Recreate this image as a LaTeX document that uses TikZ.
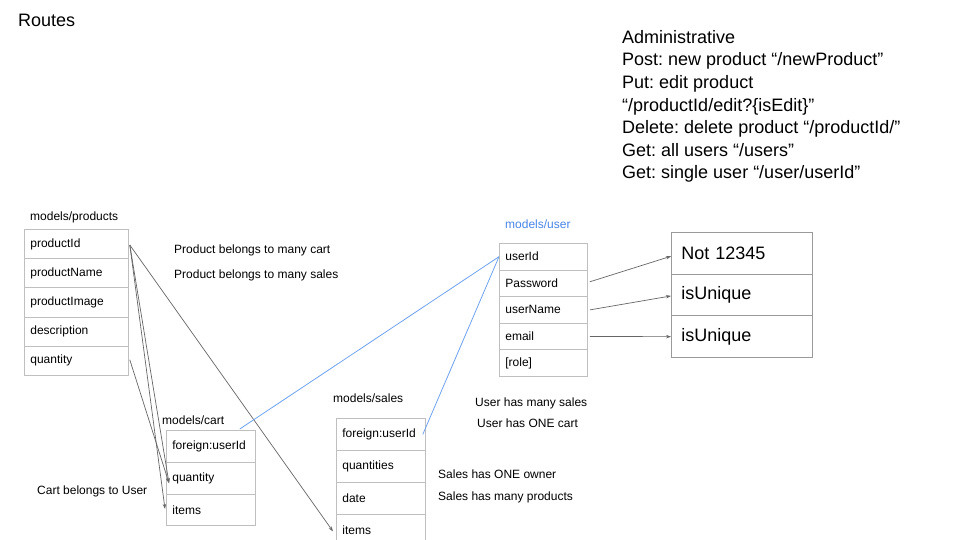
\documentclass[tikz,border=0pt]{standalone}
\usepackage{fontspec}
\setmainfont{Liberation Sans}
\usetikzlibrary{arrows.meta}
\frenchspacing
\definecolor{gridgray}{HTML}{BFBFBF}
\definecolor{boxgray}{HTML}{9A9A9A}
\definecolor{linkgray}{HTML}{666666}
\definecolor{linkblue}{HTML}{6FA3F0}
\definecolor{titleblue}{HTML}{4A86E8}
\tikzset{
  tablerow/.style 2 args={draw=gridgray, line width=0.8pt, anchor=north west, inner xsep=6pt, inner ysep=0pt,
    text width=#1, minimum height=#2, align=left, font=\fontsize{12}{14}\selectfont},
  bigrow/.style={draw=boxgray, line width=0.8pt, anchor=north west, inner xsep=10pt, inner ysep=0pt,
    text width=121pt, minimum height=41.7pt, align=left, font=\fontsize{18}{21}\selectfont},
  note/.style={anchor=base west, inner sep=0pt, font=\fontsize{12}{14}\selectfont},
  link/.style={draw=linkgray, line width=0.7pt, -{Stealth[length=5pt,width=3.5pt]}},
  bluelink/.style={draw=linkblue, line width=0.8pt},
}
\begin{document}
\begin{tikzpicture}[x=1pt,y=-1pt]
\clip (0,0) rectangle (960,540);
\useasboundingbox (0,0) rectangle (960,540);
\fill[white] (0,0) rectangle (960,540);

% titles
\node[anchor=base west, inner sep=0pt, font=\fontsize{18}{21}\selectfont] (routes) at (18,27) {Routes};
\node[anchor=north west, inner sep=0pt, align=left, font=\fontsize{18}{22.6}\selectfont] (admin) at (622,30)
  {Administrative\\Post: new product “/newProduct”\\Put: edit product\\“/productId/edit?\{isEdit\}”\\Delete: delete product “/productId/”\\Get: all users “/users”\\Get: single user “/user/userId”};

% products table
\node[note] (ptitle) at (30,220) {models/products};
\node[tablerow={92pt}{29.2pt}] (p1) at (24,229) {productId};
\node[tablerow={92pt}{29.2pt}] (p2) at (24,258.2) {productName};
\node[tablerow={92pt}{29.2pt}] (p3) at (24,287.4) {productImage};
\node[tablerow={92pt}{29.2pt}] (p4) at (24,316.6) {description};
\node[tablerow={92pt}{29.2pt}] (p5) at (24,345.8) {quantity};

% cart table
\node[note] (ctitle) at (162,424) {models/cart};
\node[tablerow={77pt}{31.8pt}] (c1) at (166,430) {foreign:userId};
\node[tablerow={77pt}{31.8pt}] (c2) at (166,461.8) {quantity};
\node[tablerow={77pt}{31.8pt}] (c3) at (166,493.6) {items};

% sales table
\node[note] (stitle) at (333,402) {models/sales};
\node[tablerow={77pt}{32pt}] (s1) at (336,418) {foreign:userId};
\node[tablerow={77pt}{32pt}] (s2) at (336,450) {quantities};
\node[tablerow={77pt}{32pt}] (s3) at (336,482) {date};
\node[tablerow={77pt}{32pt}] (s4) at (336,514) {items};

% user table
\node[note, text=titleblue] (utitle) at (505,228) {models/user};
\node[tablerow={76pt}{26.6pt}] (u1) at (499,243) {userId};
\node[tablerow={76pt}{26.6pt}] (u2) at (499,269.6) {Password};
\node[tablerow={76pt}{26.6pt}] (u3) at (499,296.2) {userName};
\node[tablerow={76pt}{26.6pt}] (u4) at (499,322.8) {email};
\node[tablerow={76pt}{26.6pt}] (u5) at (499,349.4) {[role]};

% constraint table
\node[bigrow] (r1) at (671,232) {\raisebox{-1.5pt}{Not 12345}};
\node[bigrow] (r2) at (671,273.7) {\raisebox{-1.5pt}{isUnique}};
\node[bigrow] (r3) at (671,315.4) {\raisebox{-1.5pt}{isUnique}};

% notes
\node[note] (n1) at (174,253) {Product belongs to many cart};
\node[note] (n2) at (174,278) {Product belongs to many sales};
\node[note] (n3) at (37,494) {Cart belongs to User};
\node[note] (n4) at (475,406) {User has many sales};
\node[note] (n5) at (477,427) {User has ONE cart};
\node[note] (n6) at (438,478) {Sales has ONE owner};
\node[note] (n7) at (438,500) {Sales has many products};

% connectors
\draw[link] ([xshift=1pt,yshift=-1pt]p1.east) -- ([xshift=3pt,yshift=-5pt]c2.west);
\draw[link] ([xshift=1pt,yshift=-1pt]p1.east) -- ([xshift=-1pt,yshift=1pt]c3.west);
\draw[link] ([xshift=1pt,yshift=1pt]p5.east) -- ([xshift=3pt,yshift=-5pt]c2.west);
\draw[link] ([xshift=1pt,yshift=-1pt]p1.east) -- ([xshift=-3pt,yshift=-1pt]s4.west);
\draw[bluelink] ([xshift=-16pt,yshift=1pt]c1.north east) -- (u1.west);
\draw[bluelink] ([xshift=-3pt]s1.east) -- (u1.west);
\draw[link] ([xshift=2pt,yshift=1.5pt]u2.east) -- ([yshift=-3pt]r1.west);
\draw[link] ([xshift=2pt]u3.east) -- ([yshift=-1pt]r2.west);
\draw[link] ([xshift=2pt]u4.east) -- (r3.west);
\end{tikzpicture}
\end{document}
